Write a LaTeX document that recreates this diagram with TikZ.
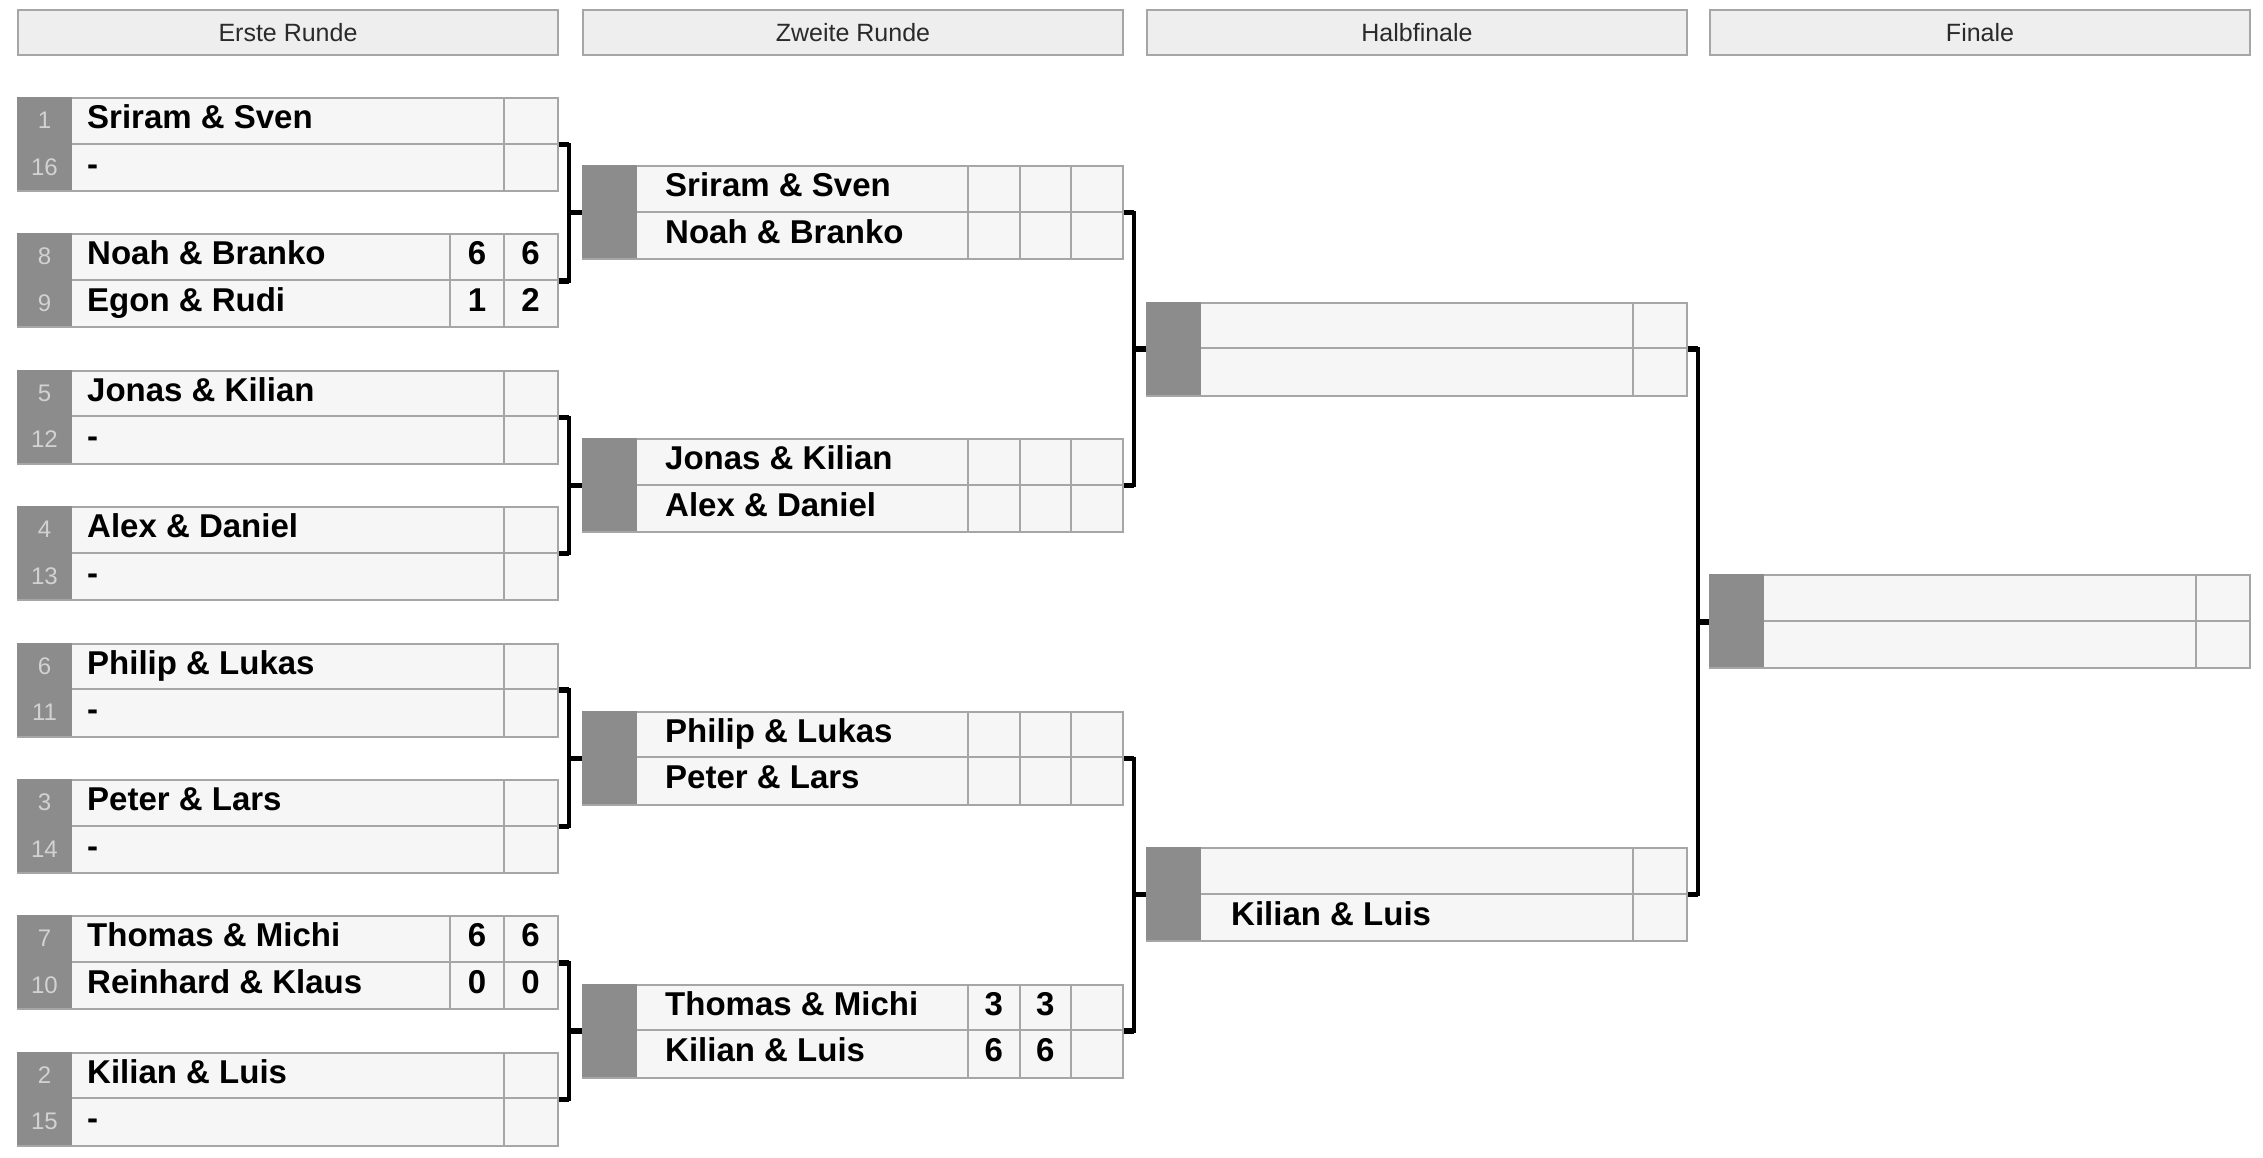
\documentclass[tikz,border=0pt]{standalone}
\usepackage{fontspec}
\setmainfont{Liberation Sans}
\usetikzlibrary{positioning,calc}

\definecolor{cellfill}{HTML}{F6F6F6}
\definecolor{cellline}{HTML}{A6A6A6}
\definecolor{seedfill}{HTML}{8C8C8C}
\definecolor{seedtext}{HTML}{D2D2D2}
\definecolor{headfill}{HTML}{EEEEEE}
\definecolor{headtext}{HTML}{2A2A2A}

\tikzset{
  headbox/.style={draw=cellline, fill=headfill, line width=2pt, anchor=north west,
    minimum width=540pt, minimum height=45pt, inner sep=0pt, text=headtext,
    font=\fontsize{25}{29}\selectfont},
  matchbox/.style={draw=cellline, fill=cellfill, line width=2pt, anchor=north west,
    minimum width=540pt, minimum height=93pt, inner sep=0pt},
  cellrule/.style={draw=cellline, line width=2pt},
  seednum/.style={anchor=base, inner sep=0pt, text=seedtext, font=\fontsize{24}{28}\selectfont},
  teamname/.style={anchor=base west, inner sep=0pt, font=\fontsize{33}{39}\selectfont\bfseries},
  setscore/.style={anchor=base, inner sep=0pt, font=\fontsize{33}{39}\selectfont\bfseries},
  bracketline/.style={draw=black, line width=3.5pt},
  bracketstub/.style={draw=black, line width=5.5pt},
}

\begin{document}
\begin{tikzpicture}[x=1pt, y=-1pt, declare function={p=136.4;}]
    \fill[white] (0,0) rectangle (2263,1157);

    % Kopfzeile
    \foreach \x/\t [count=\n] in {17/Erste Runde, 582/Zweite Runde, 1146/Halbfinale, 1709/Finale}
        \node[headbox] (kopf\n) at (\x,9) {\t};

    % Erste Runde
    \foreach \i/\sa/\ta/\sb/\tb [evaluate=\i as \y using 97+(\i-1)*p] in {
        1/1/Sriram \& Sven/16/-,
        2/8/Noah \& Branko/9/Egon \& Rudi,
        3/5/Jonas \& Kilian/12/-,
        4/4/Alex \& Daniel/13/-,
        5/6/Philip \& Lukas/11/-,
        6/3/Peter \& Lars/14/-,
        7/7/Thomas \& Michi/10/Reinhard \& Klaus,
        8/2/Kilian \& Luis/15/-}
    {
        \node[matchbox] (e\i) at (17,\y) {};
        \fill[seedfill] (17,\y) rectangle ++(55,93);
        \draw[cellrule] (72,\y+46.5) -- (557,\y+46.5);
        \draw[cellrule] (504,\y) -- (504,\y+93);
        \node[seednum] (e\i-sa) at (44.5,\y+31.5) {\sa};
        \node[seednum] (e\i-sb) at (44.5,\y+78) {\sb};
        \node[teamname] (e\i-ta) at (87,\y+31.5) {\ta};
        \node[teamname] (e\i-tb) at (87,\y+78) {\tb};
    }
    % Saetze
    \foreach \i/\pa/\pb/\qa/\qb [evaluate=\i as \y using 97+(\i-1)*p] in {2/6/6/1/2, 7/6/6/0/0}
    {
        \draw[cellrule] (450,\y) -- (450,\y+93);
        \node[setscore] (e\i-a1) at (477,\y+31.5) {\pa};
        \node[setscore] (e\i-a2) at (530.5,\y+31.5) {\pb};
        \node[setscore] (e\i-b1) at (477,\y+78) {\qa};
        \node[setscore] (e\i-b2) at (530.5,\y+78) {\qb};
    }

    % Zweite Runde
    \foreach \j/\ta/\tb [evaluate=\j as \y using 165.2+(\j-1)*2*p] in {
        1/Sriram \& Sven/Noah \& Branko,
        2/Jonas \& Kilian/Alex \& Daniel,
        3/Philip \& Lukas/Peter \& Lars,
        4/Thomas \& Michi/Kilian \& Luis}
    {
        \node[matchbox] (z\j) at (582,\y) {};
        \fill[seedfill] (582,\y) rectangle ++(55,93);
        \draw[cellrule] (637,\y+46.5) -- (1122,\y+46.5);
        \foreach \x in {968,1019.5,1071}
            \draw[cellrule] (\x,\y) -- (\x,\y+93);
        \node[teamname] (z\j-ta) at (665,\y+31.5) {\ta};
        \node[teamname] (z\j-tb) at (665,\y+78) {\tb};
    }
    \node[setscore] (z4-a1) at (993.7,{165.2+6*p+31.5}) {3};
    \node[setscore] (z4-a2) at (1045.3,{165.2+6*p+31.5}) {3};
    \node[setscore] (z4-b1) at (993.7,{165.2+6*p+78}) {6};
    \node[setscore] (z4-b2) at (1045.3,{165.2+6*p+78}) {6};

    % Halbfinale
    \foreach \j [evaluate=\j as \y using 301.6+(\j-1)*4*p] in {1,2}
    {
        \node[matchbox] (h\j) at (1146,\y) {};
        \fill[seedfill] (1146,\y) rectangle ++(55,93);
        \draw[cellrule] (1201,\y+46.5) -- (1686,\y+46.5);
        \draw[cellrule] (1633,\y) -- (1633,\y+93);
    }
    \node[teamname] (h2-tb) at (1231,{301.6+4*p+78}) {Kilian \& Luis};

    % Finale
    \node[matchbox] (f) at (1709,574.4) {};
    \fill[seedfill] (1709,574.4) rectangle ++(55,93);
    \draw[cellrule] (1764,620.9) -- (2249,620.9);
    \draw[cellrule] (2196,574.4) -- (2196,667.4);

    % Verbindungen
    \foreach \oben/\unten/\ziel in {e1/e2/z1, e3/e4/z2, e5/e6/z3, e7/e8/z4, z1/z2/h1, z3/z4/h2, h1/h2/f}
    {
        \draw[bracketline] (\oben.east) -- ++(10,0) coordinate (\ziel-k) |- (\unten.east);
        \draw[bracketstub] (\oben.east) -- ++(10,0);
        \draw[bracketstub] (\unten.east) -- ++(10,0);
        \draw[bracketstub] (\ziel.west) -- (\ziel.west -| \ziel-k);
    }
\end{tikzpicture}
\end{document}
